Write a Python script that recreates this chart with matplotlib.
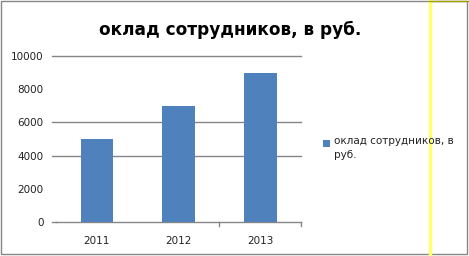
import matplotlib
matplotlib.use("Agg")
import matplotlib.pyplot as plt
from matplotlib.patches import Rectangle
from matplotlib.lines import Line2D
import matplotlib.transforms as mtransforms

categories = ["2011", "2012", "2013"]
values = [5000, 7000, 9000]
series_name = "оклад сотрудников, в руб."
legend_label = "оклад сотрудников, в\nруб."
yticks = [0, 2000, 4000, 6000, 8000, 10000]
visible_grid = [4000, 6000, 10000]

W, H = 469, 256
fig = plt.figure(figsize=(W / 100, H / 100), dpi=100)
plt.rcParams['font.family'] = ['DejaVu Sans']

def fx(px):
    return px / W

def fy(py):
    return 1 - py / H

ax = fig.add_axes([fx(56), fy(222), fx(301) - fx(56), fy(56) - fy(222)])
bar_color = "#4F81BD"
x = list(range(len(categories)))
ax.bar(x, values, width=0.4, color=bar_color, zorder=3)
ax.set_xlim(-0.5, len(categories) - 0.5)
ax.set_ylim(0, 10000)

for s in ["top", "right", "left"]:
    ax.spines[s].set_visible(False)
ax.spines["bottom"].set_color("#868686")
ax.spines["bottom"].set_linewidth(1)

ax.set_yticks(yticks)
ax.set_yticklabels([str(v) for v in yticks], fontsize=7.5, color="#222222")
ax.tick_params(axis="y", length=0, pad=9)
ax.set_xticks(x)
ax.set_xticklabels(categories, fontsize=7.5, color="#222222")
ax.tick_params(axis="x", length=0, pad=10)

# gridlines extending to the tick-mark position
trans = mtransforms.blended_transform_factory(ax.transAxes, ax.transData)
ext = -4 / 245
for v in visible_grid:
    ax.add_line(Line2D([ext, 1], [v, v], transform=trans, color="#868686",
                       lw=1, clip_on=False, zorder=1))
ax.add_line(Line2D([ext, 0], [0, 0], transform=trans, color="#868686",
                   lw=1, clip_on=False, zorder=1))
# category separator tick marks
for b in [1.5, 2.5]:
    ax.add_line(Line2D([b, b], [0, -250], color="#868686", lw=1,
                       clip_on=False, zorder=1))

fig.text(fx(230), fy(30), series_name, ha="center", va="center",
         fontsize=12.2, fontweight="bold")

# legend
fig.patches.append(Rectangle((fx(323), fy(147)), fx(7), fy(140) - fy(147),
                             transform=fig.transFigure, facecolor=bar_color,
                             edgecolor="none"))
fig.text(fx(334), fy(136), legend_label, ha="left", va="top", fontsize=7.5,
         linespacing=1.45, color="#222222")

# yellow vertical line
fig.add_artist(Line2D([fx(429.5), fx(429.5)], [0, 1], transform=fig.transFigure,
                      color="#FFFF70", lw=2.5))
# border
fig.add_artist(Rectangle((fx(0.5), fy(253.5)), fx(467) - fx(0.5), fy(0.5) - fy(253.5),
                         transform=fig.transFigure, facecolor="none",
                         edgecolor="#868686", lw=1))
fig.add_artist(Line2D([fx(429), 1], [fy(0.5), fy(0.5)], transform=fig.transFigure,
                      color="#A0A000", lw=1))

fig.savefig("out.png", dpi=100)
